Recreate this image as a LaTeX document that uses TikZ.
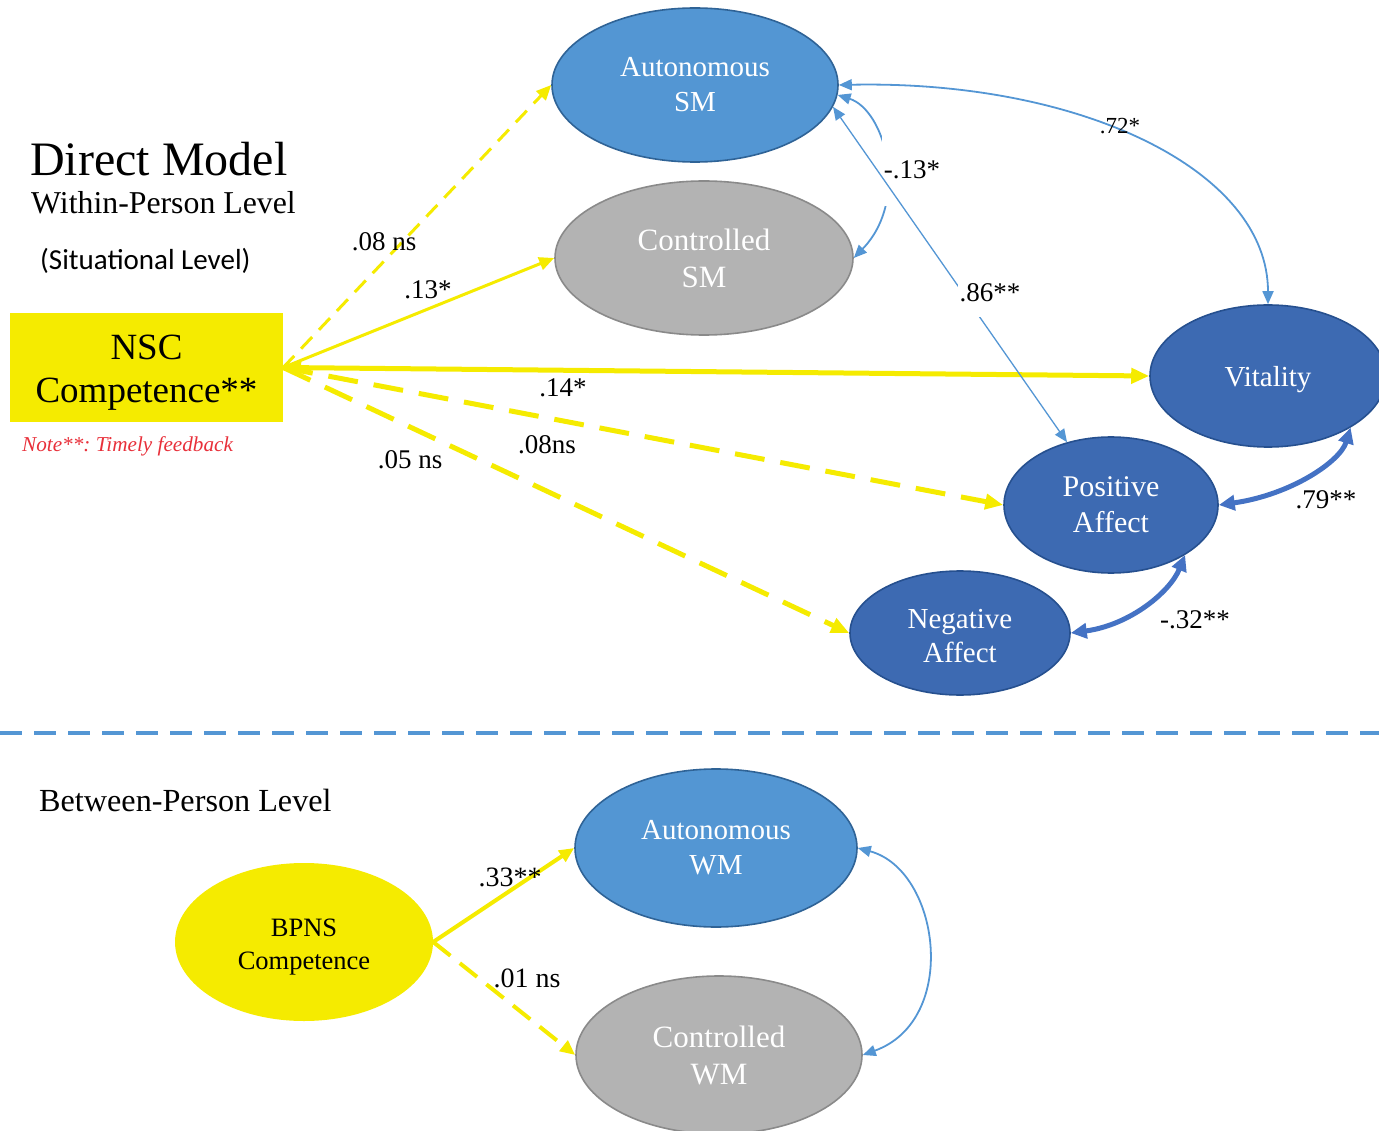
\documentclass[tikz,border=0pt]{standalone}
\usepackage{fontspec}
\setmainfont{Liberation Serif}
\newfontfamily\carlito{Carlito}
\usetikzlibrary{arrows.meta,shapes.geometric}

\definecolor{ylw}{RGB}{245,235,0}
\definecolor{autofill}{RGB}{83,150,211}
\definecolor{autoline}{RGB}{47,99,150}
\definecolor{ctrlfill}{RGB}{179,179,179}
\definecolor{ctrlline}{RGB}{138,138,138}
\definecolor{outfill}{RGB}{61,106,178}
\definecolor{outline}{RGB}{38,80,143}
\definecolor{thinblue}{RGB}{84,150,212}
\definecolor{thickblue}{RGB}{68,114,196}
\definecolor{notered}{RGB}{232,48,58}

\begin{document}
\frenchspacing
\begin{tikzpicture}[x=1pt,y=-1pt,
  nodetext/.style={font=\fontsize{29}{35}\selectfont, text=white, align=center, inner sep=0pt},
  autobox/.style={ellipse, nodetext, draw=autoline, fill=autofill, line width=1.6pt},
  ctrlbox/.style={ellipse, nodetext, draw=ctrlline, fill=ctrlfill, line width=1.6pt},
  outbox/.style={ellipse, nodetext, draw=outline, fill=outfill, line width=1.6pt},
  coef/.style={font=\fontsize{27}{30}\selectfont, inner sep=1pt},
  ypath/.style={draw=ylw, line width=3pt, -{Triangle[length=15pt,width=13pt]}},
  ypaththick/.style={draw=ylw, line width=5pt, -{Triangle[length=18pt,width=15pt]}},
  ydash/.style={dash pattern=on 16pt off 10pt},
  ydashthick/.style={dash pattern=on 30pt off 16pt},
  bthin/.style={draw=thinblue, line width=1.8pt, {Triangle[length=13pt,width=11pt]}-{Triangle[length=13pt,width=11pt]}},
  bthick/.style={draw=thickblue, line width=5pt, {Triangle[length=16pt,width=15pt]}-{Triangle[length=16pt,width=15pt]}}
]
\useasboundingbox (0,0) rectangle (1379,1131);

% headings
\node[anchor=base west, inner sep=0] (title) at (30,176) {\fontsize{48}{52}\selectfont Direct Model};
\node[anchor=base west, inner sep=0] (within) at (31,214) {\fontsize{31.8}{34}\selectfont Within-Person Level};
\node[anchor=base west, inner sep=0] (situ) at (40,270) {\carlito\fontsize{29}{32}\selectfont (Situational Level)};
\node[anchor=base west, inner sep=0] (between) at (39,811) {\fontsize{32.2}{35}\selectfont Between-Person Level};

% within-person nodes
\node[draw=none, fill=ylw, minimum width=273pt, minimum height=109pt, inner sep=0,
      label={[name=nsctext, align=center, inner sep=0, yshift=-5pt,
              font=\fontsize{37}{43}\selectfont]center:NSC\\Competence**}] (nsc) at (146.5,367.5) {};
\node[anchor=base west, inner sep=0, text=notered] (note) at (22,451)
      {\fontsize{21.2}{24}\selectfont\itshape Note**: Timely feedback};

\node[autobox, minimum width=286pt, minimum height=154pt] (autsm) at (695,85) {Autonomous\\SM};
\node[ctrlbox, minimum width=298pt, minimum height=154pt, font=\fontsize{31}{37}\selectfont] (ctrlsm) at (704,258) {Controlled\\SM};
\node[outbox, minimum width=236pt, minimum height=142pt, label={[name=vittext, text=white, inner sep=0, yshift=-4pt, font=\fontsize{29}{34}\selectfont]center:Vitality}] (vit) at (1268,376) {};
\node[outbox, minimum width=214pt, minimum height=136pt, font=\fontsize{30}{36}\selectfont] (posaff) at (1111,505) {Positive\\Affect};
\node[outbox, minimum width=220pt, minimum height=124pt, label={[name=negtext, text=white, inner sep=0, align=center, yshift=-3pt, font=\fontsize{29}{34}\selectfont]center:Negative\\Affect}] (negaff) at (960,633) {};

% level divider
\draw[draw=thinblue, line width=4pt, dash pattern=on 22pt off 12pt] (0,733) -- (1379,733);

% paths from NSC competence
\draw[ypath, ydash] (nsc.east) -- (autsm.west);
\draw[ypath] (nsc.east) -- (ctrlsm.west);
\draw[ypaththick, {Triangle[length=18pt,width=15pt]}-{Triangle[length=18pt,width=15pt]}] (nsc.east) -- (vit.west);
\draw[ypaththick, ydashthick] (nsc.east) -- (posaff.west);
\draw[ypaththick, ydashthick] (nsc.east) -- (negaff.west);

\node[coef] (c08a) at (384,242) {.08 ns};
\node[coef] (c13) at (428,290) {.13*};
\node[coef] (c14) at (563,388) {.14*};
\node[coef] (c08b) at (547,445) {.08ns};
\node[coef] (c05) at (410,460) {.05 ns};

% residual correlations among outcomes
\draw[bthin] (autsm.0) .. controls (1080,80) and (1268,170) .. (vit.north);
\node[coef, font=\fontsize{23}{26}\selectfont] (c72) at (1120,126) {.72*};

\draw[bthin] (autsm.-4) .. controls (885,110) and (910,200) .. (ctrlsm.east);
\node[coef, fill=white, minimum height=72pt, inner xsep=2pt] (c13n) at (912,170) {-.13*};

\draw[bthin, line width=1.3pt] (posaff.125) -- (autsm.-9);
\node[coef, fill=white, minimum height=48pt, inner xsep=2pt] (c86) at (990,293) {.86**};

\draw[bthick] (posaff.east) .. controls (1290,495) and (1340,462) .. (vit.-32);
\node[coef] (c79) at (1326,500) {.79**};

\draw[bthick] (negaff.east) .. controls (1130,625) and (1170,592) .. (posaff.-34);
\node[coef] (c32) at (1195,620) {-.32**};

% between-person level
\node[ellipse, fill=ylw, draw=none, minimum width=258pt, minimum height=158pt, inner sep=0,
      label={[name=bpnstext, align=center, inner sep=0, yshift=-5pt,
              font=\fontsize{26.5}{33}\selectfont]center:BPNS\\Competence}] (bpns) at (304,942) {};
\node[autobox, minimum width=282pt, minimum height=158pt] (autwm) at (716,848) {Autonomous\\WM};
\node[ctrlbox, minimum width=286pt, minimum height=158pt, font=\fontsize{31}{37}\selectfont] (ctrlwm) at (719,1055) {Controlled\\WM};

\draw[ypath, line width=4pt] (bpns.east) -- (autwm.west);
\draw[ypath, line width=4pt, dash pattern=on 22pt off 12pt] (bpns.east) -- (ctrlwm.west);
\node[coef, font=\fontsize{28}{30}\selectfont] (c33) at (510,877) {.33**};
\node[coef, font=\fontsize{28}{30}\selectfont] (c01) at (527,978) {.01 ns};

\draw[bthin] (autwm.east) .. controls (940,870) and (960,1020) .. (ctrlwm.east);
\end{tikzpicture}
\end{document}
